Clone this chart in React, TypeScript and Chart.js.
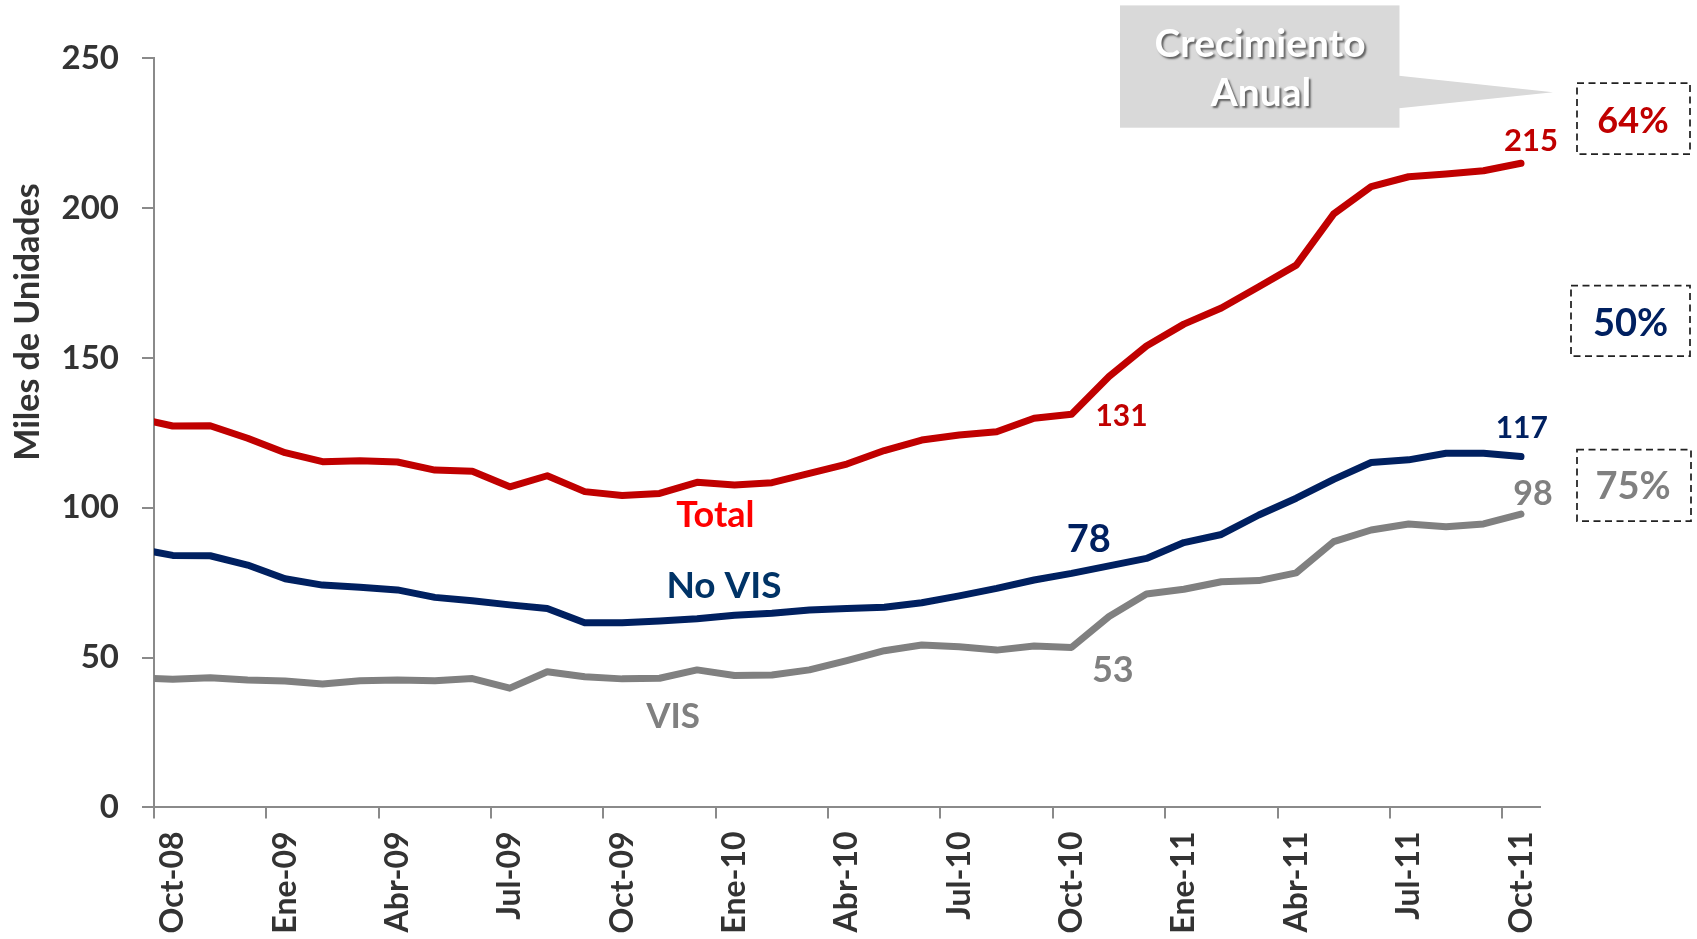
import React, { useEffect, useRef } from 'react';
import { Chart, registerables } from 'chart.js';

Chart.register(...registerables);

// ---- data -------------------------------------------------------------
// Month categories (first entry is the month before the axis starts; its
// segment is clipped at the axis, as in the reference).
const months = [
  'Sep-08', 'Oct-08', 'Nov-08', 'Dic-08', 'Ene-09', 'Feb-09', 'Mar-09', 'Abr-09', 'May-09',
  'Jun-09', 'Jul-09', 'Ago-09', 'Sep-09', 'Oct-09', 'Nov-09', 'Dic-09', 'Ene-10', 'Feb-10',
  'Mar-10', 'Abr-10', 'May-10', 'Jun-10', 'Jul-10', 'Ago-10', 'Sep-10', 'Oct-10', 'Nov-10',
  'Dic-10', 'Ene-11', 'Feb-11', 'Mar-11', 'Abr-11', 'May-11', 'Jun-11', 'Jul-11', 'Ago-11',
  'Sep-11', 'Oct-11',
];

const totalValues = [
  130.1, 127.3, 127.4, 123.2, 118.4, 115.4, 115.7, 115.3, 112.6, 112.2, 107.0, 110.7, 105.4,
  104.1, 104.8, 108.5, 107.6, 108.4, 111.5, 114.6, 119.1, 122.6, 124.3, 125.4, 129.9, 131.2,
  143.8, 154.0, 161.3, 166.7, 173.8, 181.0, 198.1, 207.2, 210.5, 211.4, 212.5, 215.0,
];

const noVisValues = [
  86.5, 84.1, 84.0, 80.9, 76.3, 74.2, 73.5, 72.6, 70.1, 69.0, 67.6, 66.4, 61.6, 61.6, 62.2,
  63.0, 64.1, 64.8, 65.9, 66.4, 66.8, 68.3, 70.6, 73.1, 75.9, 78.1, 80.6, 83.1, 88.4, 91.1,
  97.6, 103.2, 109.5, 115.1, 116.0, 118.2, 118.2, 117.1,
];

const visValues = [
  43.2, 42.8, 43.3, 42.5, 42.2, 41.2, 42.3, 42.5, 42.3, 43.0, 39.8, 45.3, 43.6, 42.9, 43.1,
  45.9, 44.0, 44.2, 45.9, 49.0, 52.3, 54.2, 53.6, 52.5, 53.9, 53.4, 63.7, 71.2, 72.8, 75.3,
  75.7, 78.3, 88.7, 92.6, 94.6, 93.7, 94.6, 97.9,
];

const seriesNames = ['Total', 'No VIS', 'VIS'];
const growthLabels = ['64%', '50%', '75%'];
const calloutLines = ['Crecimiento', 'Anual'];
const yAxisTitle = 'Miles de Unidades';
const yTickStep = 50;
const xTickEvery = 3; // a label every 3 months

// ---- styling ----------------------------------------------------------
const FONT = 'Lato, "Noto Sans", "DejaVu Sans", sans-serif';
const bold = (s: number) => `bold ${s}px ${FONT}`;
const lineColors = ['#c00000', '#002060', '#808080'];
const AXIS = '#8a8a8a';
const TEXT = '#333333';

// labels placed next to data points (offsets in px from the point)
const valueLabels = [
  { series: 0, index: 25, dx: 50, dy: 11.7, color: '#c00000', size: 30 },
  { series: 1, index: 25, dx: 17.3, dy: -21.7, color: '#002060', size: 38 },
  { series: 2, index: 25, dx: 41.2, dy: 34.3, color: '#808080', size: 36 },
  { series: 0, index: 37, dx: 10, dy: -12.6, color: '#c00000', size: 31 },
  { series: 1, index: 37, dx: 0.8, dy: -18.3, color: '#002060', size: 30 },
  { series: 2, index: 37, dx: 12, dy: -9.1, color: '#808080', size: 34 },
];

// series name labels (axis coordinates of the text baseline centre)
const nameLabels = [
  { series: 0, x: 14.99, y: 93.7, color: '#ff0000', size: 36 },
  { series: 1, x: 15.22, y: 69.8, color: '#003366', size: 37 },
  { series: 2, x: 13.86, y: 26.6, color: '#808080', size: 35 },
];

// growth boxes (canvas px)
const growthBoxes = [
  { x: 1577, y: 83, w: 113, h: 71, tx: 1633, ty: 132.7, color: '#c00000', size: 36 },
  { x: 1571, y: 285.5, w: 119, h: 70.5, tx: 1630.5, ty: 336, color: '#002060', size: 38 },
  { x: 1577, y: 449.5, w: 114, h: 71.5, tx: 1633, ty: 499.3, color: '#808080', size: 38 },
];

const seriesList = [totalValues, noVisValues, visValues];
const toPoints = (vals: number[]) => vals.map((v, i) => ({ x: i - 0.5, y: v }));
const xTickValues = Array.from(
  { length: Math.floor((months.length - 2) / xTickEvery) + 1 },
  (_, k) => k * xTickEvery
);

const overlayPlugin = {
  id: 'overlay',
  afterDraw(chart: any) {
    const { ctx } = chart;
    const xs = chart.scales.x;
    const ys = chart.scales.y;
    ctx.save();
    ctx.textAlign = 'center';
    ctx.textBaseline = 'alphabetic';

    // y-axis title
    ctx.save();
    ctx.translate(39, 322);
    ctx.rotate(-Math.PI / 2);
    ctx.font = bold(34);
    ctx.fillStyle = TEXT;
    ctx.fillText(yAxisTitle, 0, 0);
    ctx.restore();

    // series names
    nameLabels.forEach((n) => {
      ctx.font = bold(n.size);
      ctx.fillStyle = n.color;
      ctx.fillText(seriesNames[n.series], xs.getPixelForValue(n.x), ys.getPixelForValue(n.y));
    });

    // value labels
    valueLabels.forEach((l) => {
      const v = seriesList[l.series][l.index];
      ctx.font = bold(l.size);
      ctx.fillStyle = l.color;
      ctx.fillText(
        String(Math.round(v)),
        xs.getPixelForValue(l.index - 0.5) + l.dx,
        ys.getPixelForValue(v) + l.dy
      );
    });

    // callout
    ctx.fillStyle = '#d9d9d9';
    ctx.fillRect(1120, 5.4, 279.5, 122.3);
    ctx.beginPath();
    ctx.moveTo(1399, 75.8);
    ctx.lineTo(1553, 92.3);
    ctx.lineTo(1399, 108.2);
    ctx.closePath();
    ctx.fill();
    ctx.save();
    ctx.shadowColor = 'rgba(0,0,0,0.55)';
    ctx.shadowOffsetX = 2;
    ctx.shadowOffsetY = 2;
    ctx.shadowBlur = 2;
    ctx.fillStyle = '#ffffff';
    ctx.font = bold(39);
    ctx.fillText(calloutLines[0], 1260, 57);
    ctx.fillText(calloutLines[1], 1261, 106);
    ctx.restore();

    // growth boxes
    growthBoxes.forEach((b, k) => {
      ctx.save();
      ctx.strokeStyle = '#222222';
      ctx.lineWidth = 1.75;
      ctx.setLineDash([7, 4.5]);
      ctx.strokeRect(b.x, b.y, b.w, b.h);
      ctx.restore();
      ctx.font = bold(b.size);
      ctx.fillStyle = b.color;
      ctx.fillText(growthLabels[k], b.tx, b.ty);
    });

    ctx.restore();
  },
};

export default function App() {
  const ref = useRef<HTMLCanvasElement>(null);

  useEffect(() => {
    document.body.style.margin = '0';
    if (!ref.current) return;
    Chart.defaults.font.family = FONT;

    const common = {
      borderWidth: 7,
      pointRadius: 0,
      pointHoverRadius: 0,
      tension: 0,
      fill: false,
      borderJoinStyle: 'round' as const,
      borderCapStyle: 'round' as const,
      clip: { left: 0, top: false, right: false, bottom: false } as any,
    };

    const chart = new Chart(ref.current, {
      type: 'line',
      data: {
        datasets: seriesList.map((vals, i) => ({
          ...common,
          label: seriesNames[i],
          data: toPoints(vals),
          borderColor: lineColors[i],
          backgroundColor: lineColors[i],
        })),
      },
      options: {
        responsive: false,
        animation: false,
        events: [],
        layout: { padding: { top: 58.4, right: 157.3, left: 0, bottom: 0 } },
        plugins: {
          legend: { display: false },
          tooltip: { enabled: false },
          title: { display: false },
        },
        scales: {
          x: {
            type: 'linear',
            min: 0,
            max: months.length - 1,
            afterBuildTicks: (s: any) => {
              s.ticks = xTickValues.map((v) => ({ value: v }));
            },
            afterFit: (s: any) => {
              s.height = 939 - 807.4;
              s.paddingLeft = 0;
              s.paddingRight = 0;
            },
            ticks: {
              autoSkip: false,
              minRotation: 90,
              maxRotation: 90,
              labelOffset: 19,
              padding: 13,
              color: TEXT,
              font: { family: FONT, size: 32, weight: 'bold' },
              callback: (v: any) => months[Number(v) + 1] ?? '',
            },
            grid: {
              drawOnChartArea: false,
              drawTicks: true,
              tickLength: 11,
              lineWidth: 2,
              color: AXIS,
            },
            border: { display: true, color: AXIS, width: 2 },
          },
          y: {
            min: 0,
            max: 250,
            afterFit: (s: any) => {
              s.width = 154;
            },
            ticks: {
              stepSize: yTickStep,
              padding: 23,
              color: TEXT,
              font: { family: FONT, size: 33, weight: 'bold' },
            },
            grid: {
              drawOnChartArea: false,
              drawTicks: true,
              tickLength: 12,
              lineWidth: 2,
              color: AXIS,
            },
            border: { display: true, color: AXIS, width: 2 },
          },
        },
      } as any,
      plugins: [overlayPlugin],
    });

    const fonts: any = (document as any).fonts;
    if (fonts && fonts.ready) {
      fonts.ready.then(() => {
        try {
          chart.update();
        } catch (e) {
          /* destroyed */
        }
      });
    }

    return () => {
      chart.destroy();
    };
  }, []);

  return <canvas ref={ref} width={1697} height={939} style={{ display: 'block' }} />;
}
